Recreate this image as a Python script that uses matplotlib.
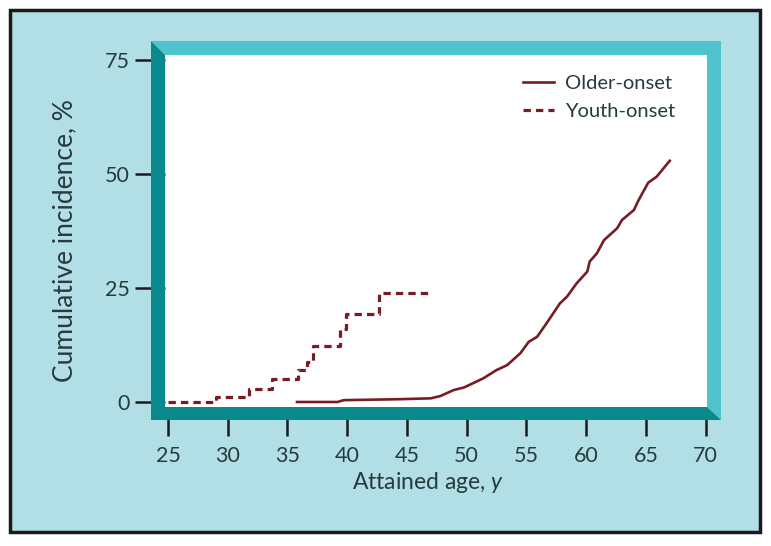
import matplotlib
matplotlib.use("Agg")
import matplotlib.pyplot as plt
from matplotlib.patches import Polygon, Rectangle

plt.rcParams['font.family'] = ['Lato', 'DejaVu Sans']
plt.rcParams['mathtext.fontset'] = 'custom'
plt.rcParams['mathtext.rm'] = 'Lato'
plt.rcParams['mathtext.it'] = 'Lato:italic'

# Youth-onset cumulative incidence (step curve)
youth_age = [25.0, 29.0, 31.8, 33.7, 35.9, 36.6, 37.1, 39.4, 39.9, 42.7, 47.0]
youth_pct = [0.0, 1.2, 2.9, 5.0, 7.0, 8.8, 12.3, 16.0, 19.4, 24.0, 24.0]

# Older-onset cumulative incidence
older_age = [35.8, 39.2, 39.7, 44.2, 47.0, 47.8, 48.9, 49.8, 51.4, 52.5,
             53.4, 54.5, 55.2, 55.9, 56.7, 57.8, 58.4, 59.2, 60.1, 60.3,
             60.9, 61.5, 62.6, 63.0, 64.0, 64.4, 65.2, 65.9, 67.0]
older_pct = [0.0, 0.0, 0.4, 0.6, 0.8, 1.3, 2.6, 3.2, 5.2, 7.0,
             8.1, 10.7, 13.2, 14.3, 17.3, 21.6, 23.1, 26.0, 28.6, 30.8,
             32.6, 35.5, 38.1, 39.9, 42.1, 44.3, 48.1, 49.4, 52.9]

x_ticks = [25, 30, 35, 40, 45, 50, 55, 60, 65, 70]
y_ticks = [0, 25, 50, 75]

BG = '#b1dfe5'
LIGHT = '#4fc4cd'
DARK = '#0a898c'
LINE = '#781c24'
TEXT = '#263b3d'

W, H = 771, 546
fig = plt.figure(figsize=(W / 100, H / 100), dpi=100, facecolor='white')


def fx(px):
    return px / W


def fy(py):
    return 1 - py / H


# light blue panel with black border
fig.patches.append(Rectangle((fx(10), fy(532)), fx(750), 522 / H,
                             transform=fig.transFigure, facecolor=BG,
                             edgecolor='#1a1a1a', linewidth=2.5, zorder=-10))

# plot area = white inside the bevelled frame
left, top, right, bottom = 165, 55, 707, 407
ax = fig.add_axes([fx(left), fy(bottom), (right - left) / W, (bottom - top) / H])
ax.set_facecolor('white')

ax.plot(older_age, older_pct, color=LINE, lw=1.9, label='Older-onset',
        solid_joinstyle='round')
ax.plot(youth_age, youth_pct, color=LINE, lw=2.3, drawstyle='steps-post',
        linestyle=(0, (2.3, 1.6)), label='Youth-onset')

ax.set_xlim(24.75, 70.12)
ax.set_ylim(-1.1, 76.1)
ax.set_xticks(x_ticks)
ax.set_yticks(y_ticks)
for s in ax.spines.values():
    s.set_visible(False)
ax.tick_params(axis='y', direction='out', length=21.6, width=1.8,
               color='#1a1a1a', pad=3.5, labelsize=15.5, labelcolor=TEXT)
ax.tick_params(axis='x', direction='out', length=20.9, width=1.8,
               color='#1a1a1a', pad=7.5, labelsize=15.5, labelcolor=TEXT)

ax.set_xlabel('Attained age, $\\mathit{y}$', fontsize=16.5, color=TEXT)
ax.xaxis.set_label_coords(0.486, -0.178)
ax.set_ylabel('Cumulative incidence, %', fontsize=19, color=TEXT)
ax.yaxis.set_label_coords(-0.162, 0.474)

leg = ax.legend(loc='upper right', bbox_to_anchor=(0.975, 0.995), frameon=False,
                fontsize=14.5, handlelength=1.55, handletextpad=0.55,
                labelspacing=0.55, labelcolor=TEXT)

# bevelled frame: light top/right, dark left/bottom
t = 14
ol, ot, orr, ob = left - t, top - t, right + t, bottom + 13
light = [(ol, ot), (orr, ot), (orr, ob), (right, bottom), (right, top), (left, top)]
dark = [(ol, ot), (left, top), (left, bottom), (right, bottom), (orr, ob), (ol, ob)]
for pts, c in ((light, LIGHT), (dark, DARK)):
    fig.patches.append(Polygon([(fx(x), fy(y)) for x, y in pts], closed=True,
                               transform=fig.transFigure, facecolor=c,
                               edgecolor='none', zorder=5))

fig.savefig('out.png', dpi=100, facecolor='white')
